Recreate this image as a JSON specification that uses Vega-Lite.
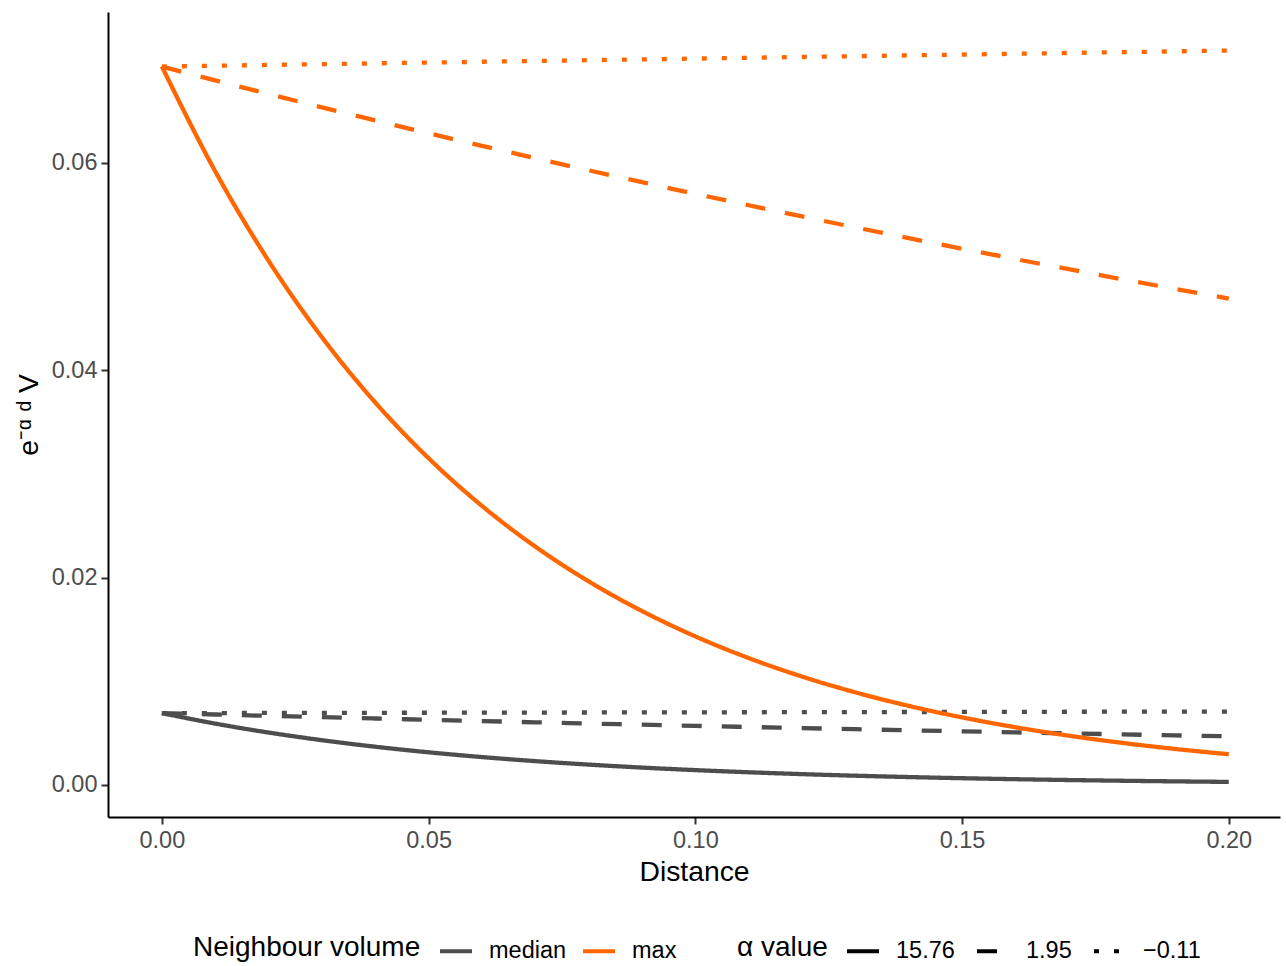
{
  "$schema": "https://vega.github.io/schema/vega-lite/v6.json",
  "width": 1172,
  "height": 805,
  "autosize": {"type": "none"},
  "padding": {"left": 108, "top": 12, "right": 6, "bottom": 149},
  "background": "white",
  "config": {
    "view": {"stroke": null},
    "font": "Liberation Sans",
    "axis": {
      "grid": false,
      "domainColor": "black",
      "domainWidth": 2,
      "tickColor": "#333333",
      "tickWidth": 2,
      "tickSize": 7,
      "labelFont": "Liberation Sans",
      "labelFontSize": 23.5,
      "labelColor": "#4D4D4D",
      "labelPadding": 4,
      "titleFont": "Liberation Sans",
      "titleFontSize": 28.3,
      "titleFontWeight": "normal",
      "titleColor": "black"
    },
    "legend": {
      "orient": "none",
      "direction": "horizontal",
      "titleOrient": "left",
      "titleFont": "Liberation Sans",
      "titleFontSize": 28,
      "titleFontWeight": "normal",
      "titleColor": "black",
      "titlePadding": 17,
      "titleLimit": 600,
      "titleBaseline": "middle",
      "labelFont": "Liberation Sans",
      "labelFontSize": 23.5,
      "labelColor": "black",
      "labelOffset": 15,
      "columnPadding": 8,
      "symbolType": "stroke",
      "symbolSize": 1024,
      "symbolStrokeWidth": 4
    }
  },
  "data": {
    "values": [
      {"d":0,"y":0.00693,"v":"median","a":"15.76"},{"d":0.01,"y":0.0059196,"v":"median","a":"15.76"},{"d":0.02,"y":0.0050564,"v":"median","a":"15.76"},{"d":0.03,"y":0.0043191,"v":"median","a":"15.76"},{"d":0.04,"y":0.0036894,"v":"median","a":"15.76"},{"d":0.05,"y":0.0031515,"v":"median","a":"15.76"},{"d":0.06,"y":0.002692,"v":"median","a":"15.76"},{"d":0.07,"y":0.0022994,"v":"median","a":"15.76"},{"d":0.08,"y":0.0019642,"v":"median","a":"15.76"},{"d":0.09,"y":0.0016778,"v":"median","a":"15.76"},{"d":0.1,"y":0.0014331,"v":"median","a":"15.76"},{"d":0.11,"y":0.0012242,"v":"median","a":"15.76"},{"d":0.12,"y":0.0010457,"v":"median","a":"15.76"},{"d":0.13,"y":0.0008932,"v":"median","a":"15.76"},{"d":0.14,"y":0.000763,"v":"median","a":"15.76"},{"d":0.15,"y":0.0006518,"v":"median","a":"15.76"},{"d":0.16,"y":0.0005567,"v":"median","a":"15.76"},{"d":0.17,"y":0.0004755,"v":"median","a":"15.76"},{"d":0.18,"y":0.0004062,"v":"median","a":"15.76"},{"d":0.19,"y":0.000347,"v":"median","a":"15.76"},{"d":0.2,"y":0.0002964,"v":"median","a":"15.76"},
      {"d":0,"y":0.00693,"v":"median","a":"1.95"},{"d":0.01,"y":0.0067962,"v":"median","a":"1.95"},{"d":0.02,"y":0.0066649,"v":"median","a":"1.95"},{"d":0.03,"y":0.0065362,"v":"median","a":"1.95"},{"d":0.04,"y":0.00641,"v":"median","a":"1.95"},{"d":0.05,"y":0.0062862,"v":"median","a":"1.95"},{"d":0.06,"y":0.0061648,"v":"median","a":"1.95"},{"d":0.07,"y":0.0060458,"v":"median","a":"1.95"},{"d":0.08,"y":0.005929,"v":"median","a":"1.95"},{"d":0.09,"y":0.0058145,"v":"median","a":"1.95"},{"d":0.1,"y":0.0057022,"v":"median","a":"1.95"},{"d":0.11,"y":0.0055921,"v":"median","a":"1.95"},{"d":0.12,"y":0.0054841,"v":"median","a":"1.95"},{"d":0.13,"y":0.0053782,"v":"median","a":"1.95"},{"d":0.14,"y":0.0052744,"v":"median","a":"1.95"},{"d":0.15,"y":0.0051725,"v":"median","a":"1.95"},{"d":0.16,"y":0.0050726,"v":"median","a":"1.95"},{"d":0.17,"y":0.0049747,"v":"median","a":"1.95"},{"d":0.18,"y":0.0048786,"v":"median","a":"1.95"},{"d":0.19,"y":0.0047844,"v":"median","a":"1.95"},{"d":0.2,"y":0.004692,"v":"median","a":"1.95"},
      {"d":0,"y":0.00693,"v":"median","a":"−0.11"},{"d":0.02,"y":0.0069453,"v":"median","a":"−0.11"},{"d":0.04,"y":0.0069606,"v":"median","a":"−0.11"},{"d":0.06,"y":0.0069759,"v":"median","a":"−0.11"},{"d":0.08,"y":0.0069913,"v":"median","a":"−0.11"},{"d":0.1,"y":0.0070067,"v":"median","a":"−0.11"},{"d":0.12,"y":0.0070221,"v":"median","a":"−0.11"},{"d":0.14,"y":0.0070375,"v":"median","a":"−0.11"},{"d":0.16,"y":0.007053,"v":"median","a":"−0.11"},{"d":0.18,"y":0.0070686,"v":"median","a":"−0.11"},{"d":0.2,"y":0.0070842,"v":"median","a":"−0.11"},
      {"d":0,"y":0.0693,"v":"max","a":"15.76"},{"d":0.01,"y":0.059196,"v":"max","a":"15.76"},{"d":0.02,"y":0.050564,"v":"max","a":"15.76"},{"d":0.03,"y":0.043191,"v":"max","a":"15.76"},{"d":0.04,"y":0.036894,"v":"max","a":"15.76"},{"d":0.05,"y":0.031515,"v":"max","a":"15.76"},{"d":0.06,"y":0.02692,"v":"max","a":"15.76"},{"d":0.07,"y":0.022994,"v":"max","a":"15.76"},{"d":0.08,"y":0.019642,"v":"max","a":"15.76"},{"d":0.09,"y":0.016778,"v":"max","a":"15.76"},{"d":0.1,"y":0.014331,"v":"max","a":"15.76"},{"d":0.11,"y":0.012242,"v":"max","a":"15.76"},{"d":0.12,"y":0.010457,"v":"max","a":"15.76"},{"d":0.13,"y":0.008932,"v":"max","a":"15.76"},{"d":0.14,"y":0.00763,"v":"max","a":"15.76"},{"d":0.15,"y":0.006518,"v":"max","a":"15.76"},{"d":0.16,"y":0.005567,"v":"max","a":"15.76"},{"d":0.17,"y":0.004755,"v":"max","a":"15.76"},{"d":0.18,"y":0.004062,"v":"max","a":"15.76"},{"d":0.19,"y":0.00347,"v":"max","a":"15.76"},{"d":0.2,"y":0.002964,"v":"max","a":"15.76"},
      {"d":0,"y":0.0693,"v":"max","a":"1.95"},{"d":0.01,"y":0.067962,"v":"max","a":"1.95"},{"d":0.02,"y":0.066649,"v":"max","a":"1.95"},{"d":0.03,"y":0.065362,"v":"max","a":"1.95"},{"d":0.04,"y":0.0641,"v":"max","a":"1.95"},{"d":0.05,"y":0.062862,"v":"max","a":"1.95"},{"d":0.06,"y":0.061648,"v":"max","a":"1.95"},{"d":0.07,"y":0.060458,"v":"max","a":"1.95"},{"d":0.08,"y":0.05929,"v":"max","a":"1.95"},{"d":0.09,"y":0.058145,"v":"max","a":"1.95"},{"d":0.1,"y":0.057022,"v":"max","a":"1.95"},{"d":0.11,"y":0.055921,"v":"max","a":"1.95"},{"d":0.12,"y":0.054841,"v":"max","a":"1.95"},{"d":0.13,"y":0.053782,"v":"max","a":"1.95"},{"d":0.14,"y":0.052744,"v":"max","a":"1.95"},{"d":0.15,"y":0.051725,"v":"max","a":"1.95"},{"d":0.16,"y":0.050726,"v":"max","a":"1.95"},{"d":0.17,"y":0.049747,"v":"max","a":"1.95"},{"d":0.18,"y":0.048786,"v":"max","a":"1.95"},{"d":0.19,"y":0.047844,"v":"max","a":"1.95"},{"d":0.2,"y":0.04692,"v":"max","a":"1.95"},
      {"d":0,"y":0.0693,"v":"max","a":"−0.11"},{"d":0.02,"y":0.069453,"v":"max","a":"−0.11"},{"d":0.04,"y":0.069606,"v":"max","a":"−0.11"},{"d":0.06,"y":0.069759,"v":"max","a":"−0.11"},{"d":0.08,"y":0.069913,"v":"max","a":"−0.11"},{"d":0.1,"y":0.070067,"v":"max","a":"−0.11"},{"d":0.12,"y":0.070221,"v":"max","a":"−0.11"},{"d":0.14,"y":0.070375,"v":"max","a":"−0.11"},{"d":0.16,"y":0.07053,"v":"max","a":"−0.11"},{"d":0.18,"y":0.070686,"v":"max","a":"−0.11"},{"d":0.2,"y":0.070842,"v":"max","a":"−0.11"}
    ]
  },
  "mark": {"type": "line", "strokeWidth": 4.3, "interpolate": "monotone", "strokeCap": "butt"},
  "encoding": {
    "x": {
      "field": "d", "type": "quantitative",
      "scale": {"domain": [-0.0101, 0.2096], "nice": false, "zero": false},
      "axis": {"values": [0, 0.05, 0.1, 0.15, 0.2], "format": ".2f", "title": "Distance", "titlePadding": 7}
    },
    "y": {
      "field": "y", "type": "quantitative",
      "scale": {"domain": [-0.00309, 0.07456], "nice": false, "zero": false},
      "axis": {"values": [0, 0.02, 0.04, 0.06], "format": ".2f", "title": "e⁻ᵅ ᵈ V", "titlePadding": 8}
    },
    "color": {
      "field": "v", "type": "nominal",
      "scale": {"domain": ["median", "max"], "range": ["#4D4D4D", "#FF6600"]},
      "legend": {"title": "Neighbour volume", "legendX": 85, "legendY": 921}
    },
    "strokeDash": {
      "field": "a", "type": "nominal",
      "scale": {"domain": ["15.76", "1.95", "−0.11"], "range": [[1, 0], [20, 20], [5, 15]]},
      "legend": {"title": "α value", "legendX": 629, "legendY": 921, "symbolStrokeColor": "black", "columnPadding": 14}
    }
  }
}
